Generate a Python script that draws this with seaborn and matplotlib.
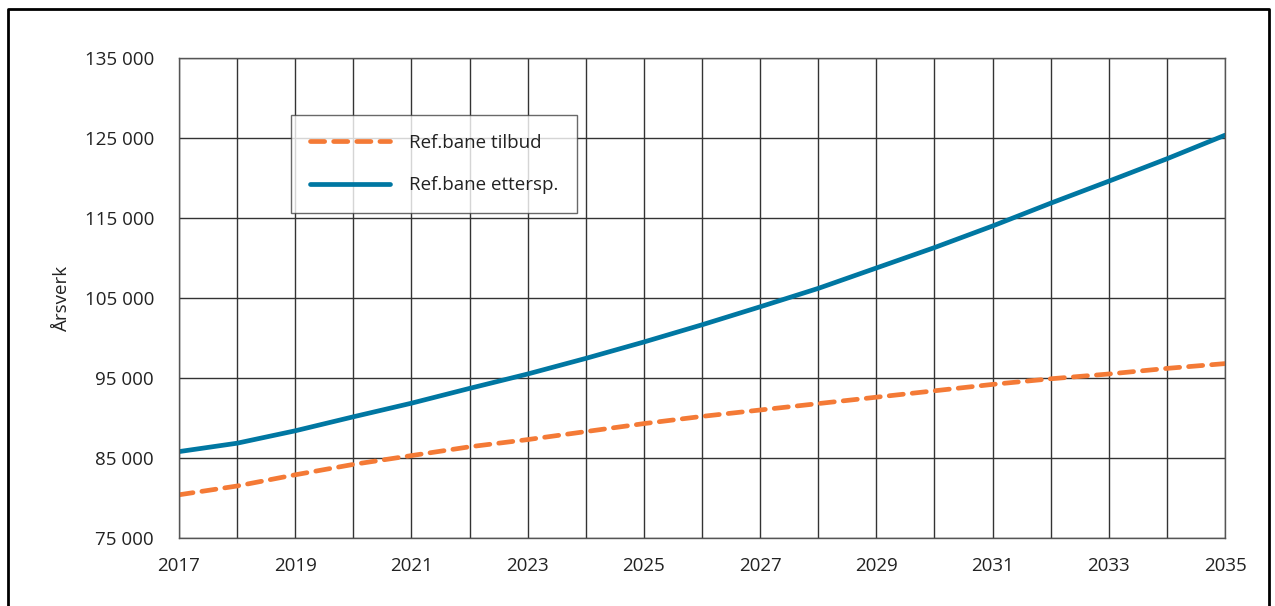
import numpy as np
import pandas as pd
import matplotlib
matplotlib.use('Agg')
import matplotlib.pyplot as plt
import seaborn as sns
from matplotlib.ticker import FuncFormatter
from matplotlib.lines import Line2D

years = list(range(2017, 2036))
tilbud = [80400, 81500, 82900, 84200, 85300, 86400, 87300, 88300, 89300, 90200,
          91000, 91800, 92600, 93400, 94200, 94900, 95500, 96200, 96800]
ettersp = [85800, 86850, 88400, 90150, 91850, 93700, 95500, 97450, 99500, 101650,
           103900, 106200, 108750, 111300, 114000, 116850, 119600, 122400, 125350]
labels = ["Ref.bane tilbud", "Ref.bane ettersp."]
colors = ["#F47A36", "#0077A2"]
x_ticks = years[::2]
y_ticks = list(range(75000, 135001, 10000))

sns.set_theme(style="white")
plt.rcParams['font.family'] = ['Open Sans', 'DejaVu Sans']

fig = plt.figure(figsize=(12.75, 6.06), dpi=100)
ax = fig.add_axes([179 / 1275, 1 - 538 / 606, (1225 - 179) / 1275, (538 - 58) / 606])

sns.lineplot(x=years, y=tilbud, ax=ax, color=colors[0], linewidth=3.4,
             label=labels[0])
sns.lineplot(x=years, y=ettersp, ax=ax, color=colors[1], linewidth=3.4,
             label=labels[1])
ax.lines[0].set_dashes((3.0, 1.9))
ax.lines[0].set_dash_capstyle('round')

ax.set_xlim(2017, 2035)
ax.set_ylim(75000, 135000)
ax.set_xticks(x_ticks)
ax.set_xticks(years, minor=True)
ax.set_yticks(y_ticks)
ax.yaxis.set_major_formatter(FuncFormatter(lambda v, p: f"{int(v):,}".replace(",", " ")))
ax.grid(True, which='both', axis='x', color='#333333', linewidth=1)
ax.grid(True, which='major', axis='y', color='#333333', linewidth=1)
ax.set_axisbelow(True)
ax.tick_params(axis='both', which='both', length=0, labelsize=13.5, colors='#222222')
ax.tick_params(axis='x', pad=14)
ax.tick_params(axis='y', pad=18)
for s in ax.spines.values():
    s.set_color('#555555')
    s.set_linewidth(1)

ax.set_ylabel("Årsverk", fontsize=13.5, color='#222222', labelpad=10)
ax.set_xlabel("")

leg = ax.legend(loc='upper left', bbox_to_anchor=((291 - 179) / 1046, (538 - 115) / 480),
                fontsize=13.5, frameon=True, fancybox=False, edgecolor='#444444',
                handlelength=4.3, labelspacing=1.3, borderpad=1.0, borderaxespad=0,
                handletextpad=1.0)
leg.get_frame().set_linewidth(1)
for t in leg.get_texts():
    t.set_color('#222222')

# outer frame (open at bottom)
fx0, fx1, fy1 = 7.5 / 1275, 1268.5 / 1275, 1 - 8.5 / 606
fig.add_artist(Line2D([fx0, fx0, fx1, fx1], [0, fy1, fy1, 0],
                      transform=fig.transFigure, color='black', linewidth=2))

fig.savefig("out.png", dpi=100)
